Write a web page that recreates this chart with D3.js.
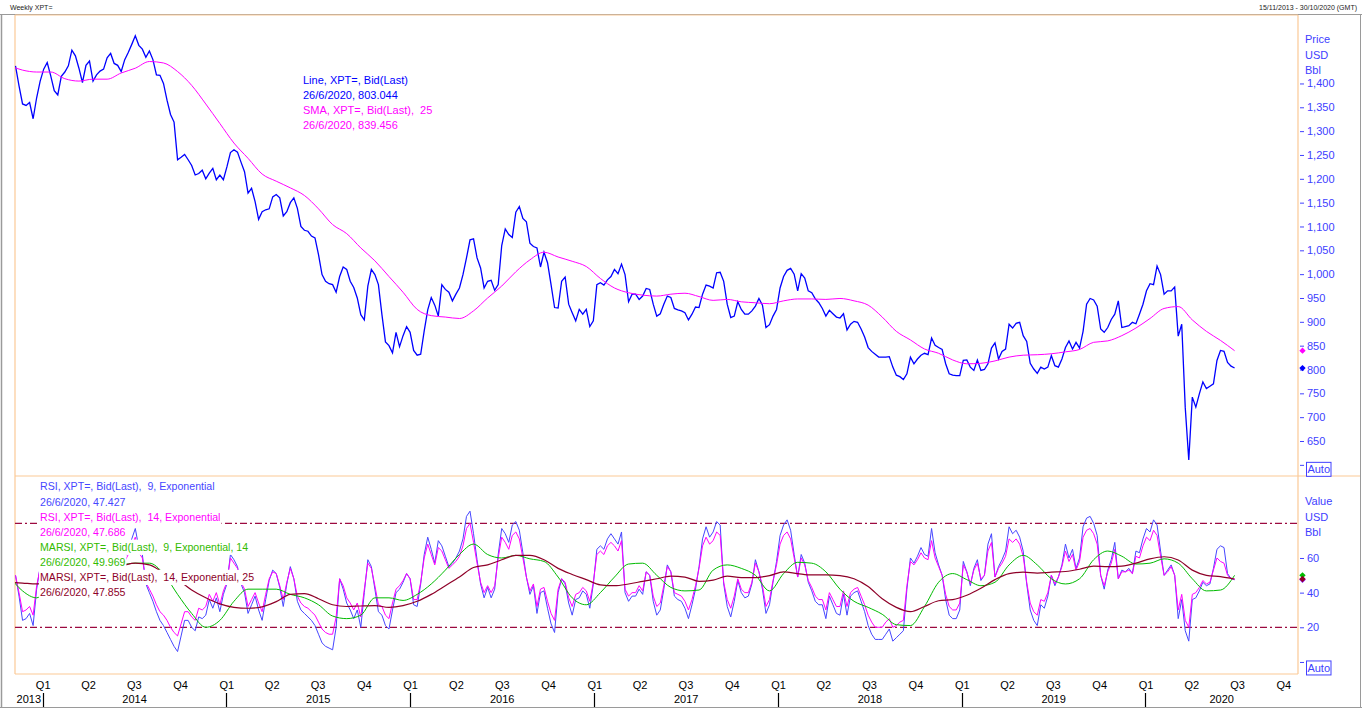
<!DOCTYPE html>
<html><head><meta charset="utf-8">
<script src="https://cdn.jsdelivr.net/npm/d3@7"></script>
<style>
body{margin:0;background:#fff;}
svg{display:block;font-family:"Liberation Sans",Arial,sans-serif;}
.lg{white-space:pre;}
</style>
</head><body>
<svg id="c" width="1362" height="710"></svg>
<script>
// ---------- DATA ----------
const firstWeek = "2013-11-08";      // weekly closes (Fridays)
const smoothStart = "2013-10-25";    // smooth series sampled every 4 weeks
const domainStart = "2013-11-07", domainEnd = "2020-10-30";

const price = [
1437,1395,1357,1354,1360,1326,1370,1405,1430,1444,
1416,1385,1376,1415,1424,1437,1470,1458,1432,1402,
1438,1447,1405,1418,1426,1430,1454,1463,1442,1438,
1425,1450,1465,1482,1500,1480,1472,1455,1468,1450,
1418,1417,1400,1365,1335,1319,1240,1245,1251,1240,
1228,1208,1211,1218,1200,1212,1222,1198,1208,1198,
1225,1255,1261,1256,1235,1215,1170,1180,1152,1115,
1131,1135,1137,1162,1167,1160,1122,1131,1150,1160,
1138,1100,1092,1090,1080,1076,1041,999,985,980,
978,962,995,1015,1010,985,972,950,915,904,
975,1010,999,978,915,858,850,835,878,848,
871,890,878,840,830,832,881,925,951,935,
912,978,968,962,944,958,971,999,1034,1072,
1074,1034,1013,971,985,987,966,978,1060,1095,
1083,1077,1130,1142,1117,1110,1065,1058,1055,1015,
1046,1024,978,930,929,985,994,937,919,902,
926,916,926,890,902,978,982,977,988,995,
1010,1001,1021,999,942,958,958,947,954,970,
968,937,912,917,937,954,951,928,925,923,
919,904,916,931,930,958,977,975,971,1003,
1004,985,937,909,912,942,926,916,916,923,
933,949,935,888,894,912,926,971,995,1008,
1012,1000,965,1001,992,965,961,948,940,928,
912,924,917,910,908,917,883,895,901,899,
885,868,846,838,832,826,826,826,827,805,
788,785,779,791,826,812,822,830,834,831,
866,851,846,842,812,791,788,787,787,819,
820,805,798,820,798,800,812,845,856,822,
838,843,895,887,897,899,871,859,813,801,
792,805,801,805,829,808,805,822,846,860,
843,857,845,880,937,949,946,933,885,878,
888,905,916,944,888,890,892,899,896,916,
937,965,980,978,1017,999,958,965,965,973,
870,895,720,610,742,721,749,774,760,765,
770,819,840,838,815,807,803.044];

const sma25 = [
1438,1428,1424,1424,1410,1405,1409,1409,1422,1432,
1446,1443,1425,1396,1357,1316,1275,1243,1210,1195,
1181,1165,1137,1104,1085,1055,1028,995,962,926,
913,910,907,923,950,975,1005,1030,1046,1036,
1027,1016,991,971,961,956,954,958,960,953,
945,947,942,940,938,944,948,948,947,949,
944,935,910,880,862,843,834,820,812,813,
818,826,830,831,833,837,842,857,860,871,
887,907,928,932,904,880,861,839.456];

const rsi9 = [
50,38,24,25,28,21,42,55,62,66,
56,45,42,55,58,62,70,64,54,44,
57,60,46,50,53,54,62,65,56,54,
50,60,65,71,77,66,62,45,40,35,
29,24,21,17,13,9,6,15,24,24,
20,18,26,25,27,36,31,37,29,39,
45,62,59,55,45,40,28,33,38,30,
24,36,47,53,51,43,32,45,55,48,
35,30,28,26,24,21,16,11,9,8,
7,20,48,42,34,30,25,30,20,40,
59,55,42,29,27,21,19,30,40,42,
46,51,48,33,32,45,62,72,65,57,
70,67,61,55,57,60,64,71,84,87,
74,59,45,37,43,37,42,62,77,74,
69,79,81,76,63,49,39,44,28,40,
41,31,22,17,40,48,45,34,27,36,
37,41,39,31,45,65,67,65,71,74,
71,68,75,40,35,38,38,42,39,52,
50,35,27,30,42,56,52,38,36,35,
31,25,33,42,55,71,78,72,75,81,
79,45,32,26,35,47,40,37,38,45,
59,52,42,28,33,46,58,73,79,82,
76,62,49,62,57,46,41,35,33,33,
25,38,33,28,27,39,27,38,40,41,
35,29,21,16,13,13,13,16,19,12,
14,16,18,42,60,57,61,66,62,61,
77,63,56,50,36,27,25,25,30,58,
52,44,54,59,47,50,68,74,49,55,
59,64,78,74,76,72,64,45,30,24,
21,33,31,38,50,44,49,56,68,60,
65,54,60,78,83,84,80,73,50,42,
53,59,69,48,53,52,54,51,64,63,
71,77,75,82,79,64,50,53,56,50,
25,36,18,12,36,37,41,46,44,45,
54,65,67,66,51,48,47.427];

const rsi14 = [
50,40,29,30,32,27,44,54,60,63,
55,46,44,54,56,60,66,61,53,45,
56,58,47,50,52,53,60,62,55,53,
50,58,62,67,72,63,60,46,42,38,
33,29,27,24,20,17,15,22,29,29,
26,24,31,30,32,39,35,40,33,41,
46,60,57,54,46,42,32,36,40,34,
29,39,48,52,51,44,36,46,54,48,
38,34,32,31,29,27,23,19,17,16,
16,26,48,44,37,34,30,34,26,42,
57,54,44,33,32,27,25,34,42,44,
47,51,48,36,36,46,60,68,62,56,
66,64,59,54,56,58,61,67,77,80,
69,57,46,40,44,40,44,60,72,69,
65,73,75,71,60,49,41,45,32,42,
43,35,28,24,42,48,46,37,32,39,
40,43,41,35,46,62,64,62,67,69,
67,64,70,42,38,40,40,44,41,52,
50,38,32,34,44,55,52,40,39,38,
35,30,36,44,54,67,72,68,70,75,
73,46,36,31,38,48,42,40,40,46,
57,52,44,32,36,47,56,68,73,75,
71,60,49,60,56,47,43,38,36,36,
30,40,36,32,32,41,32,40,42,43,
38,33,27,23,20,20,20,23,25,20,
21,23,24,44,58,56,59,63,60,59,
70,60,55,50,39,32,30,30,34,56,
52,45,53,57,48,50,64,69,49,54,
57,61,71,69,71,68,61,46,34,29,
27,36,35,40,50,45,49,55,64,58,
62,53,58,72,76,77,74,68,50,44,
52,57,65,48,52,52,53,51,61,60,
67,72,70,76,73,61,50,52,55,50,
30,39,24,20,39,40,43,47,45,46,
53,60,58,57,50,48,47.686];

const marsi9 = [
50,41,37,45,52,56,56,55,56,57,
57,51,39,28,20,24,35,42,42,42,
39,37,33,26.5,25,27,37,37,35.5,39,
45,53,62,68,62,60,61.5,59.5,58,49,
37,33,40,49,56.5,57,50,43,41,41.5,
53,56,54,50,41,51,57.5,57,52,42,
35,31.5,27.5,21.5,21,32,46,51,47.5,44,
46,56,61.5,56,48,45,48,59,64,61,
56.5,57,59.5,57,48,41,41.5,49.969];

const marsi25 = [
46,45.5,45,47,49,51,53,54.5,55.5,57,
56,51.5,47.5,41.5,37,33.5,31.5,31,31.8,34.8,
39,39.4,36.5,33,32,32.3,32.5,31.5,32.5,35,
39,44,49,54.5,56,59,61.5,61.5,59,54,
50.5,47.5,44.5,44,45,46.5,48,49.5,49,46.5,
47.2,49.5,48.7,48.7,49.8,52,51,50.2,50.2,49.8,
48,43.5,36.5,31.5,29,32,35.3,36,38.5,42.5,
47.5,51,51.8,51.3,51.8,52.2,53.5,55.3,55,55.3,
57,59.5,60.7,58.8,53,50,49.2,47.855];

const priceTicks = [600,650,700,750,800,850,900,950,1000,1050,1100,1150,1200,1250,1300,1350,1400];
const rsiTicks = [0,20,40,60];
const rsiLevels = [20,80];
const upperUnits = ["Price","USD","Bbl"];
const lowerUnits = ["Value","USD","Bbl"];
const lastDateLabel = "26/6/2020";
const headerLeft = "Weekly XPT=";
const headerRight = "15/11/2013 - 30/10/2020 (GMT)";

// ---------- SETUP ----------
const svg = d3.select("#c");
const parse = d3.timeParse("%Y-%m-%d");
const weekly = (start, n, step) => d3.range(n).map(i => d3.timeDay.offset(parse(start), 7 * step * i));
const wDates = weekly(firstWeek, price.length, 1);
const sDates = weekly(smoothStart, sma25.length, 4);
const series = (dates, vals) => vals.map((v, i) => ({date: dates[i], v}));

const L = 15, R = 1298, T = 15, MID = 476, B = 674;
const x = d3.scaleTime().domain([parse(domainStart), parse(domainEnd)]).range([L, R]);
const yP = d3.scaleLinear().domain([576.6, 1543.6]).range([MID, T]);
const yR = d3.scaleLinear().domain([-6.95, 107.3]).range([B, MID]);

const ORANGE = "#fbc996", AXBLUE = "#4040ff";
const C = {price:"#0000ff", sma:"#ff00ff", rsi9:"#4646ff", rsi14:"#ff00ff", marsi9:"#00bb00", marsi25:"#8e0028", lvl:"#9c0a40", legGreen:"#33bb00"};

const defs = svg.append("defs");
defs.append("clipPath").attr("id","cu").append("rect").attr("x",L).attr("y",T).attr("width",R-L).attr("height",MID-T);
defs.append("clipPath").attr("id","cl").append("rect").attr("x",L).attr("y",MID).attr("width",R-L).attr("height",B-MID);

// frame
svg.append("text").attr("x",10).attr("y",10).attr("font-size",7).attr("fill","#222").text(headerLeft);
svg.append("text").attr("x",1357).attr("y",10).attr("font-size",7).attr("fill","#222").attr("text-anchor","end").text(headerRight);
const gray = "#9a9a9a";
svg.append("line").attr("x1",0).attr("x2",1362).attr("y1",14.5).attr("y2",14.5).attr("stroke",gray);
svg.append("line").attr("x1",1.5).attr("x2",1.5).attr("y1",14).attr("y2",708).attr("stroke",gray).attr("stroke-width",1.5);
svg.append("line").attr("x1",1360.5).attr("x2",1360.5).attr("y1",14).attr("y2",708).attr("stroke",gray);
svg.append("line").attr("x1",0).attr("x2",1362).attr("y1",707.5).attr("y2",707.5).attr("stroke",gray);

// plot borders
const border = svg.append("g").attr("stroke",ORANGE).attr("stroke-width",1.2).attr("fill","none");
border.append("line").attr("x1",L).attr("x2",R).attr("y1",T).attr("y2",T);
border.append("line").attr("x1",L).attr("x2",L).attr("y1",T).attr("y2",B);
border.append("line").attr("x1",R).attr("x2",R).attr("y1",T).attr("y2",B);
border.append("line").attr("x1",L).attr("x2",1360).attr("y1",MID).attr("y2",MID);
border.append("line").attr("x1",L).attr("x2",R).attr("y1",B).attr("y2",B);

const lineGen = (ys, curve) => d3.line().x(d => x(d.date)).y(d => ys(d.v)).curve(curve || d3.curveLinear);

// ---------- UPPER PANEL ----------
const up = svg.append("g").attr("clip-path","url(#cu)");
up.append("path").datum(series(wDates, price)).attr("d", lineGen(yP)).attr("fill","none").attr("stroke",C.price).attr("stroke-width",1.3);
up.append("path").datum(series(sDates, sma25)).attr("d", lineGen(yP, d3.curveMonotoneX)).attr("fill","none").attr("stroke",C.sma).attr("stroke-width",1);

// ---------- LOWER PANEL ----------
const lo = svg.append("g").attr("clip-path","url(#cl)");
lo.selectAll("line.lvl").data(rsiLevels).join("line").attr("class","lvl")
  .attr("x1",L).attr("x2",R).attr("y1",d=>yR(d)).attr("y2",d=>yR(d))
  .attr("stroke",C.lvl).attr("stroke-width",1.2).attr("stroke-dasharray","7,3,2,3");
lo.append("path").datum(series(wDates, rsi9)).attr("d", lineGen(yR)).attr("fill","none").attr("stroke",C.rsi9).attr("stroke-width",1);
lo.append("path").datum(series(wDates, rsi14)).attr("d", lineGen(yR)).attr("fill","none").attr("stroke",C.rsi14).attr("stroke-width",1);
lo.append("path").datum(series(sDates, marsi9)).attr("d", lineGen(yR, d3.curveMonotoneX)).attr("fill","none").attr("stroke",C.marsi9).attr("stroke-width",1);
lo.append("path").datum(series(sDates, marsi25)).attr("d", lineGen(yR, d3.curveMonotoneX)).attr("fill","none").attr("stroke",C.marsi25).attr("stroke-width",1.2);

// ---------- RIGHT AXES ----------
function styleAxis(g){
  g.select(".domain").remove();
  g.selectAll(".tick line").attr("stroke",AXBLUE);
  g.selectAll(".tick text").attr("fill",AXBLUE).attr("font-size",11).attr("font-family","Liberation Sans, Arial, sans-serif");
}
svg.append("g").attr("transform",`translate(1300,0)`)
  .call(d3.axisRight(yP).tickValues(priceTicks).tickSize(4).tickPadding(3)
    .tickFormat(d => d === 600 ? "" : d3.format(",")(d)))
  .call(styleAxis);
svg.append("g").attr("transform",`translate(1300,0)`)
  .call(d3.axisRight(yR).tickValues(rsiTicks).tickSize(4).tickPadding(3)
    .tickFormat(d => d === 0 ? "" : d))
  .call(styleAxis);

upperUnits.forEach((t,i)=> svg.append("text").attr("x",1305).attr("y",39+i*15.7).attr("dy","0.35em")
  .attr("font-size",11).attr("fill",AXBLUE).text(t));
lowerUnits.forEach((t,i)=> svg.append("text").attr("x",1305).attr("y",501+i*15.8).attr("dy","0.35em")
  .attr("font-size",11).attr("fill",AXBLUE).text(t));

function autoBox(yTop){
  svg.append("rect").attr("x",1306.5).attr("y",yTop).attr("width",24.5).attr("height",14).attr("fill","#fff").attr("stroke",AXBLUE).attr("stroke-width",1);
  svg.append("text").attr("x",1318.7).attr("y",yTop+7).attr("dy","0.35em").attr("text-anchor","middle").attr("font-size",11).attr("fill",AXBLUE).text("Auto");
}
autoBox(yP(600) - 2.5);
autoBox(yR(0) - 1);

// last-value diamonds
const diamond = d3.symbol().type(d3.symbolSquare).size(20);
function mark(yy, col){
  svg.append("path").attr("d",diamond()).attr("transform",`translate(1302.5,${yy}) rotate(45)`).attr("fill",col);
}
mark(yP(sma25[sma25.length-1]), C.sma);
mark(yP(price[price.length-1]), C.price);
mark(yR(rsi9[rsi9.length-1]), C.rsi9);
mark(yR(rsi14[rsi14.length-1]), C.rsi14);
mark(yR(marsi9[marsi9.length-1]), C.marsi9);
mark(yR(marsi25[marsi25.length-1]), C.marsi25);

// ---------- BOTTOM TIME AXIS ----------
const quarters = d3.timeMonth.every(3).range(new Date(2014,0,1), new Date(2020,9,2));
svg.append("g").attr("transform",`translate(0,${B})`)
  .call(d3.axisBottom(x).tickValues(quarters).tickSize(0).tickPadding(7)
    .tickFormat(d => "Q" + (Math.floor(d.getMonth()/3)+1)))
  .call(g => { g.select(".domain").remove();
    g.selectAll("text").attr("fill","#000").attr("font-size",11).attr("font-family","Liberation Sans, Arial, sans-serif"); });

const years = d3.range(2013, 2021);
const d0 = parse(domainStart), d1 = parse(domainEnd);
years.forEach(yr => {
  const s = new Date(Math.max(new Date(yr,0,1), d0)), e = new Date(Math.min(new Date(yr+1,0,1), d1));
  svg.append("text").attr("x",(x(s)+x(e))/2).attr("y",699).attr("dy","0.35em").attr("text-anchor","middle")
    .attr("font-size",11).attr("fill","#000").text(yr);
});
years.slice(1).forEach(yr => {
  const xx = Math.round(x(new Date(yr,0,1))) + 0.5;
  svg.append("line").attr("x1",xx).attr("x2",xx).attr("y1",693).attr("y2",707).attr("stroke","#000").attr("stroke-width",1.2);
});

// ---------- LEGENDS ----------
function legend(items, x0, y0, step, fs){
  const g = svg.append("g");
  items.forEach((it,i) => {
    const yy = y0 + i*step;
    const r = g.append("rect").attr("fill","#fff");
    const t = g.append("text").attr("class","lg").attr("x",x0).attr("y",yy).attr("dy","0.35em")
      .attr("font-size",fs).attr("fill",it.c).text(it.t);
    const w = t.node().getComputedTextLength();
    r.attr("x",x0-1).attr("y",yy-7.5).attr("width",w+2).attr("height",step+0.2);
  });
}
legend([
  {t:"Line, XPT=, Bid(Last)", c:C.price},
  {t:`${lastDateLabel}, ${price[price.length-1].toFixed(3)}`, c:C.price},
  {t:"SMA, XPT=, Bid(Last),  25", c:C.sma},
  {t:`${lastDateLabel}, ${sma25[sma25.length-1].toFixed(3)}`, c:C.sma}
], 303, 80.3, 15, 11);
legend([
  {t:"RSI, XPT=, Bid(Last),  9, Exponential", c:C.rsi9},
  {t:`${lastDateLabel}, ${rsi9[rsi9.length-1].toFixed(3)}`, c:C.rsi9},
  {t:"RSI, XPT=, Bid(Last),  14, Exponential", c:C.rsi14},
  {t:`${lastDateLabel}, ${rsi14[rsi14.length-1].toFixed(3)}`, c:C.rsi14},
  {t:"MARSI, XPT=, Bid(Last),  9, Exponential, 14", c:C.legGreen},
  {t:`${lastDateLabel}, ${marsi9[marsi9.length-1].toFixed(3)}`, c:C.legGreen},
  {t:"MARSI, XPT=, Bid(Last),  14, Exponential, 25", c:C.marsi25},
  {t:`${lastDateLabel}, ${marsi25[marsi25.length-1].toFixed(3)}`, c:C.marsi25}
], 40, 486.7, 15.1, 10.6);
</script>
</body></html>
